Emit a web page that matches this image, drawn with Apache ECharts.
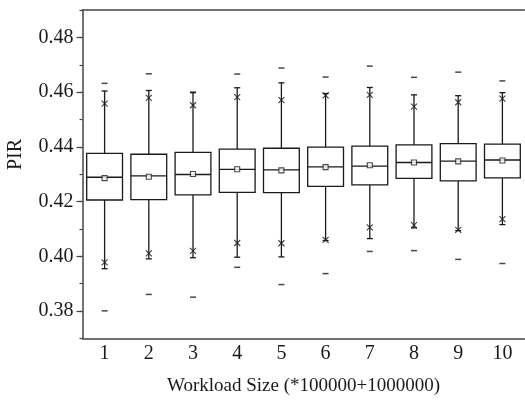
<!DOCTYPE html>
<html>
<head>
<meta charset="utf-8">
<script src="https://cdn.jsdelivr.net/npm/echarts@6/dist/echarts.min.js"></script>
<style>
html,body{margin:0;padding:0;background:#fff;overflow:hidden;}
#chart{width:525px;height:403px;overflow:hidden;}
</style>
</head>
<body>
<div id="chart"></div>
<script>
var categories = ['1','2','3','4','5','6','7','8','9','10'];
var maxVals    = [0.4632,0.4667,0.4600,0.4666,0.4688,0.4655,0.4695,0.4654,0.4673,0.4641];
var whiskerHi  = [0.4604,0.4606,0.4598,0.4616,0.4634,0.4595,0.4617,0.4590,0.4587,0.4598];
var p99        = [0.4558,0.4579,0.4552,0.4582,0.4571,0.4588,0.4590,0.4547,0.4563,0.4576];
var q3         = [0.4376,0.4373,0.4380,0.4392,0.4395,0.4399,0.4403,0.4407,0.4412,0.4410];
var median     = [0.4289,0.4294,0.4299,0.4318,0.4316,0.4327,0.4330,0.4343,0.4348,0.4352];
var meanVals   = [0.4286,0.4291,0.4301,0.4318,0.4314,0.4326,0.4333,0.4343,0.4347,0.4350];
var q1         = [0.4206,0.4207,0.4225,0.4234,0.4233,0.4256,0.4261,0.4285,0.4276,0.4287];
var p1         = [0.3978,0.4011,0.4020,0.4049,0.4048,0.4060,0.4106,0.4114,0.4097,0.4136];
var whiskerLo  = [0.3955,0.3991,0.3995,0.3997,0.3998,0.4058,0.4065,0.4104,0.4094,0.4116];
var minVals    = [0.3801,0.3861,0.3851,0.3960,0.3897,0.3937,0.4018,0.4021,0.3989,0.3974];
var yMajorTicks = [0.38,0.40,0.42,0.44,0.46,0.48];
var xTitle = 'Workload Size (*100000+1000000)';
var yTitle = 'PIR';

var FONT = '"Liberation Serif", "Times New Roman", serif';
var INK = '#1a1a1a';
var AX = '#444';

var boxData = categories.map(function(c,i){ return [i, whiskerLo[i], q1[i], median[i], q3[i], whiskerHi[i]]; });
var G = {left:82.5, top:10, width:442, height:328.5, containLabel:false};

var chart = echarts.init(document.getElementById('chart'));
chart.setOption({
  animation:false,
  backgroundColor:'#fff',
  grid:[G, Object.assign({}, G)],
  xAxis:[{
    type:'category', data:categories, position:'bottom', gridIndex:0,
    boundaryGap:true,
    axisLine:{lineStyle:{color:AX, width:1.5}},
    axisTick:{alignWithLabel:true, length:6, lineStyle:{color:AX, width:1.2}},
    axisLabel:{color:INK, fontFamily:FONT, fontSize:20, margin:5},
    splitLine:{show:false},
    name:xTitle, nameLocation:'middle', nameGap:38,
    nameTextStyle:{color:INK, fontFamily:FONT, fontSize:19}
  },{
    type:'category', data:categories, position:'top', gridIndex:1,
    boundaryGap:true,
    axisLine:{lineStyle:{color:AX, width:1.5}},
    axisTick:{alignWithLabel:true, inside:true, length:3, lineStyle:{color:AX, width:1.2}},
    axisLabel:{show:false}, splitLine:{show:false}
  }],
  yAxis:[{
    type:'value', min:0.37, max:0.49, interval:0.01, position:'left', gridIndex:0,
    axisLine:{show:true, lineStyle:{color:AX, width:1.5}},
    axisTick:{show:true, length:3, lineStyle:{color:AX, width:1.2}},
    axisLabel:{color:INK, fontFamily:FONT, fontSize:20, margin:9,
      formatter:function(v){
        var k = Math.round(v*100);
        return (k%2===0 && k>=38 && k<=48) ? (k/100).toFixed(2) : '';
      }},
    splitLine:{show:false}
  },{
    type:'value', min:0.37, max:0.49, interval:0.01, position:'left', gridIndex:1,
    axisLine:{show:false},
    axisTick:{show:true, length:6, customValues:yMajorTicks, lineStyle:{color:AX, width:1.2}},
    axisLabel:{show:false},
    splitLine:{show:false}
  }],
  graphic:[{
    type:'text', left:6, top:139, rotation:Math.PI/2,
    style:{text:yTitle, font:'20px ' + FONT, fill:INK}
  }],
  series:[{
    type:'custom',
    data:boxData,
    encode:{x:0, y:[1,2,3,4,5]},
    z:2,
    renderItem:function(params, api){
      var xi = api.value(0);
      var lo = api.coord([xi, api.value(1)]);
      var b1 = api.coord([xi, api.value(2)]);
      var md = api.coord([xi, api.value(3)]);
      var b3 = api.coord([xi, api.value(4)]);
      var hi = api.coord([xi, api.value(5)]);
      var bw = api.size([1,0])[0]*0.81;
      var h = bw/2, cap = 3, cx = md[0];
      var st = {stroke:INK, lineWidth:1.3, fill:null};
      return {type:'group', children:[
        {type:'line', shape:{x1:cx, y1:b3[1], x2:cx, y2:hi[1]}, style:st},
        {type:'line', shape:{x1:cx, y1:b1[1], x2:cx, y2:lo[1]}, style:st},
        {type:'line', shape:{x1:cx-cap, y1:hi[1], x2:cx+cap, y2:hi[1]}, style:st},
        {type:'line', shape:{x1:cx-cap, y1:lo[1], x2:cx+cap, y2:lo[1]}, style:st},
        {type:'rect', shape:{x:cx-h, y:b3[1], width:bw, height:b1[1]-b3[1]}, style:{stroke:INK, lineWidth:1.3, fill:'#fff'}},
        {type:'line', shape:{x1:cx-h, y1:md[1], x2:cx+h, y2:md[1]}, style:st}
      ]};
    }
  },{
    type:'scatter', data:meanVals, z:5,
    symbol:'rect', symbolSize:5,
    itemStyle:{color:'#fff', borderColor:INK, borderWidth:1.1}
  },{
    type:'scatter', data:p99, z:5,
    symbol:'path://M0,0L8,8M8,0L0,8', symbolSize:6,
    itemStyle:{color:'none', borderColor:INK, borderWidth:1.2}
  },{
    type:'scatter', data:p1, z:5,
    symbol:'path://M0,0L8,8M8,0L0,8', symbolSize:6,
    itemStyle:{color:'none', borderColor:INK, borderWidth:1.2}
  },{
    type:'scatter', data:maxVals, z:5,
    symbol:'rect', symbolSize:[6,1.5],
    itemStyle:{color:INK}
  },{
    type:'scatter', data:minVals, z:5,
    symbol:'rect', symbolSize:[6,1.5],
    itemStyle:{color:INK}
  }]
});
</script>
</body>
</html>
